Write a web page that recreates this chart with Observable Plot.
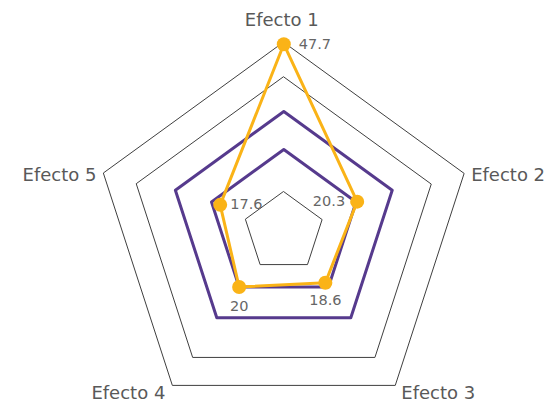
<!DOCTYPE html>
<html><head><meta charset="utf-8">
<script src="https://cdn.jsdelivr.net/npm/d3@7"></script>
<script src="https://cdn.jsdelivr.net/npm/@observablehq/plot@0.6"></script>
<style>
html,body{margin:0;padding:0;background:#fff;}
#chart svg{display:block;}
</style>
</head><body><div id="chart"></div>
<script>
// ---- data ----
const categories = ["Efecto 1", "Efecto 2", "Efecto 3", "Efecto 4", "Efecto 5"];
const values = [47.7, 20.3, 18.6, 20, 17.6];
const valueLabels = ["47.7", "20.3", "18.6", "20", "17.6"];
const referenceLevels = [20, 30];      // purple rings
const gridLevels = [10.6, 40.8, 49.9]; // grey rings

// ---- layout ----
const W = 550, H = 404;
const CX = 283.3, CY = 225, K = 3.8;  // centre (px) and px per unit
const GRID_DY = 6.5;                  // grey grid sits a little lower (px)
const ORANGE = "#FAB317", PURPLE = "#563A8D", GREY = "#3f3f3f", TEXT = "#595959";

const ang = i => i * 2 * Math.PI / categories.length;
const pt = (v, i, dyPx = 0) => ({x: Math.sin(ang(i)) * v, y: Math.cos(ang(i)) * v - dyPx / K});

const gridData = gridLevels.flatMap(l => categories.map((c, i) => ({level: l, ...pt(l, i, GRID_DY)})));
const refData = referenceLevels.flatMap(l => categories.map((c, i) => ({level: l, ...pt(l, i)})));
const seriesData = categories.map((c, i) => ({cat: c, label: valueLabels[i], ...pt(values[i], i)}));
const outer = gridLevels[gridLevels.length - 1];
const catData = categories.map((c, i) => ({cat: c, ...pt(outer, i, GRID_DY)}));

// label placement (styling)
const catStyle = [
  {textAnchor: "middle", dx: -2, dy: -22},
  {textAnchor: "start", dx: 7, dy: 2},
  {textAnchor: "start", dx: 6, dy: 8},
  {textAnchor: "end", dx: -7, dy: 8},
  {textAnchor: "end", dx: -7, dy: 2}
];
const valStyle = [
  {textAnchor: "start", dx: 15, dy: 0},
  {textAnchor: "end", dx: -12, dy: 0},
  {textAnchor: "middle", dx: 0, dy: 18},
  {textAnchor: "middle", dx: 0, dy: 19},
  {textAnchor: "start", dx: 10, dy: 0}
];

const marks = [
  Plot.line(gridData, {x: "x", y: "y", z: "level", curve: "linear-closed", stroke: GREY, strokeWidth: 1}),
  Plot.line(refData, {x: "x", y: "y", z: "level", curve: "linear-closed", stroke: PURPLE, strokeWidth: 3}),
  Plot.line(seriesData, {x: "x", y: "y", curve: "linear-closed", stroke: ORANGE, strokeWidth: 3}),
  Plot.dot(seriesData, {x: "x", y: "y", r: 7, fill: ORANGE, stroke: "none"}),
  ...catData.map((d, i) => Plot.text([d], {x: "x", y: "y", text: "cat", fill: TEXT, fontSize: 18, ...catStyle[i]})),
  ...seriesData.map((d, i) => Plot.text([d], {x: "x", y: "y", text: "label", fill: "#666", fontSize: 14.5, ...valStyle[i]}))
];

const chart = Plot.plot({
  width: W, height: H,
  marginTop: 0, marginRight: 0, marginBottom: 0, marginLeft: 0,
  style: {fontFamily: "'DejaVu Sans', sans-serif", background: "#fff"},
  x: {domain: [-CX / K, (W - CX) / K], range: [0, W], axis: null},
  y: {domain: [-(H - CY) / K, CY / K], range: [H, 0], axis: null},
  marks
});
document.getElementById("chart").appendChild(chart);
</script>
</body></html>
